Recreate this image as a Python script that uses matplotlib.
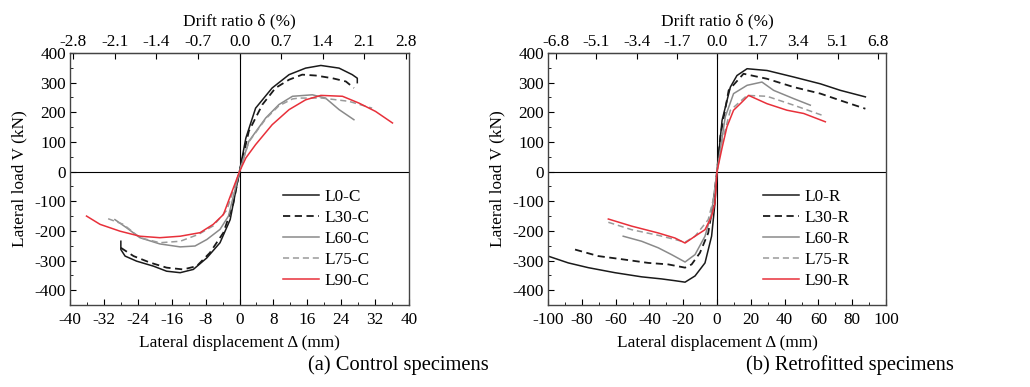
import matplotlib
matplotlib.use("Agg")
import matplotlib.pyplot as plt
from matplotlib.ticker import MultipleLocator

plt.rcParams['font.family'] = ['Liberation Serif', 'DejaVu Serif']
plt.rcParams['mathtext.fontset'] = 'stix'
plt.rcParams['axes.unicode_minus'] = False

# ---------------- data: control specimens ----------------
L0C_x = [-28, -28, -27, -24.3, -20.3, -17.2, -14, -10.9, -7.7, -4.6, -2.2, 0,
         1.5, 3.8, 7.7, 11.7, 15.6, 19.2, 23.5, 26.6, 27.8, 27.8]
L0C_y = [-235, -263, -285, -302, -319, -336, -341, -330, -291, -240, -162, 0,
         113, 214, 282, 327, 349, 358, 349, 327, 315, 300]
L30C_x = [-28, -25, -21.1, -17.2, -13.3, -10.1, -7, -3.8, -1.5, 0,
          2.2, 5.4, 8.5, 11.7, 14.8, 18, 21.9, 25.1, 27]
L30C_y = [-257, -285, -307, -324, -330, -319, -274, -206, -110, 0,
          136, 226, 282, 310, 327, 324, 315, 304, 282]
L60C_x = [-29.4, -26.6, -23.5, -18.8, -14, -10.5, -7.7, -4.6, -2.6, 0,
          2.2, 6.2, 9.3, 12.5, 17.2, 20.3, 23.5, 27]
L60C_y = [-162, -190, -223, -244, -254, -251, -229, -195, -150, 0,
          102, 181, 226, 254, 259, 248, 209, 175]
L75C_x = [-31, -27.4, -23.5, -18.8, -14, -9.7, -6.2, -3, 0,
          2.2, 6.2, 9.3, 12.5, 14, 19.5, 25.8, 31.3]
L75C_y = [-159, -178, -223, -240, -235, -212, -183, -130, 0,
          100, 178, 222, 245, 248, 248, 237, 214]
L90C_x = [-36.1, -32.9, -28.2, -23.5, -18.8, -14, -9.3, -6.2, -3.8, 0,
          1.5, 3.8, 7.7, 11.7, 15.6, 19.2, 24.3, 28.2, 32.1, 36.1]
L90C_y = [-150, -178, -201, -218, -223, -218, -206, -178, -145, 0,
          46, 91, 158, 209, 242, 257, 254, 231, 203, 164]

# ---------------- data: retrofitted specimens ----------------
L0R_x = [-100, -88, -76.2, -60.4, -44.6, -32.8, -24.9, -18.9, -13, -7.1, -3.2, -1.2, 0,
         3, 7.9, 11.8, 17.8, 29.6, 45.4, 61.2, 73, 87.8]
L0R_y = [-285, -308, -324, -341, -355, -362, -368, -373, -352, -308, -218, -106, 0,
         173, 285, 324, 347, 341, 319, 296, 274, 252]
L30R_x = [-84, -70.2, -54.5, -40.7, -28.9, -18.9, -15, -10.1, -5.2, -2.2, 0,
          2, 6.9, 15.7, 29.6, 45.4, 61.2, 73, 87.8]
L30R_y = [-263, -285, -297, -308, -313, -324, -313, -274, -207, -106, 0,
          120, 274, 330, 313, 285, 263, 240, 212]
L60R_x = [-55.5, -44.6, -34.8, -26.9, -18.9, -13, -7.1, -3.2, 0,
          4.9, 9.8, 17.8, 26.6, 33.5, 45.4, 55.2]
L60R_y = [-218, -235, -257, -280, -305, -280, -218, -140, 0,
          185, 263, 291, 302, 274, 246, 224]
L75R_x = [-64.3, -50.5, -34.8, -24.9, -18.9, -13, -9.1, -5.2, -2, 0,
          3, 7.9, 17.8, 29.6, 45.4, 62.2]
L75R_y = [-171, -196, -215, -229, -238, -218, -190, -162, -90, 0,
          100, 207, 257, 254, 224, 190]
L90R_x = [-64.3, -50.5, -34.8, -24.9, -18.9, -13, -7.1, -3.2, -1.2, 0,
          3, 5.9, 9.8, 13.8, 18.7, 29.6, 41.4, 51.3, 64.1]
L90R_y = [-160, -184, -207, -224, -241, -218, -196, -151, -106, 0,
          80, 151, 207, 229, 257, 229, 207, 196, 168]

labels_C = ['L0-C', 'L30-C', 'L60-C', 'L75-C', 'L90-C']
labels_R = ['L0-R', 'L30-R', 'L60-R', 'L75-R', 'L90-R']
drift_ticks_C = [-2.8, -2.1, -1.4, -0.7, 0.0, 0.7, 1.4, 2.1, 2.8]
drift_ticks_R = [-6.8, -5.1, -3.4, -1.7, 0.0, 1.7, 3.4, 5.1, 6.8]
disp_ticks_C = [-40, -32, -24, -16, -8, 0, 8, 16, 24, 32, 40]
disp_ticks_R = [-100, -80, -60, -40, -20, 0, 20, 40, 60, 80, 100]
load_ticks = [-400, -300, -200, -100, 0, 100, 200, 300, 400]
HEIGHT = 14.0  # mm per 1 % drift

styles = [dict(color='#1a1a1a', ls='-', lw=1.1),
          dict(color='#1a1a1a', ls=(0, (4, 2.5)), lw=1.3),
          dict(color='#8a8a8a', ls='-', lw=1.1),
          dict(color='#9a9a9a', ls=(0, (4, 2.5)), lw=1.1),
          dict(color='#e8303a', ls='-', lw=1.1)]

fig = plt.figure(figsize=(10.3, 3.87), dpi=100)
axL = fig.add_axes([70/1030, 1-305/387, 339/1030, 252/387])
axR = fig.add_axes([548/1030, 1-305/387, 338/1030, 252/387])

FS = 12.4


def setup(ax, series, labels, xlim, xticks, xminor, dticks, legx):
    for (x, y), lab, st in zip(series, labels, styles):
        ax.plot(x, y, label=lab, **st)
    ax.axhline(0, color='black', lw=0.8, zorder=0)
    ax.axvline(0, color='black', lw=0.8, zorder=0)
    ax.set_xlim(*xlim)
    ax.set_ylim(-450, 400)
    ax.set_xticks(xticks)
    ax.xaxis.set_minor_locator(MultipleLocator(xminor))
    ax.set_yticks(load_ticks)
    ax.yaxis.set_minor_locator(MultipleLocator(50))
    ax.tick_params(which='both', direction='in', labelsize=FS, top=False, right=False)
    ax.tick_params(axis='x', pad=5)
    ax.tick_params(axis='y', pad=3)
    ax.tick_params(which='major', length=4)
    ax.tick_params(which='minor', length=2)
    for s in ax.spines.values():
        s.set_color('#444444')
        s.set_linewidth(1.0)
    ax.set_xlabel('Lateral displacement Δ (mm)', fontsize=FS, labelpad=5)
    ax.set_ylabel('Lateral load V (kN)', fontsize=FS, labelpad=5)
    sec = ax.secondary_xaxis('top', functions=(lambda v: v / HEIGHT, lambda d: d * HEIGHT))
    sec.set_xticks(dticks)
    sec.set_xticklabels(['%.1f' % t for t in dticks])
    sec.tick_params(which='both', direction='in', labelsize=FS, pad=2)
    sec.tick_params(which='major', length=4)
    sec.tick_params(which='minor', length=0)
    sec.spines['top'].set_color('#444444')
    sec.set_xlabel('Drift ratio δ (%)', fontsize=FS, labelpad=6)
    ax.legend(loc='upper left', bbox_to_anchor=(legx, 0.462), frameon=False,
              fontsize=FS, handlelength=2.1, handletextpad=0.3,
              labelspacing=0.29, borderpad=0, borderaxespad=0)


setup(axL, [(L0C_x, L0C_y), (L30C_x, L30C_y), (L60C_x, L60C_y), (L75C_x, L75C_y), (L90C_x, L90C_y)],
      labels_C, (-40, 40), disp_ticks_C, 4, drift_ticks_C, 0.628)
setup(axR, [(L0R_x, L0R_y), (L30R_x, L30R_y), (L60R_x, L60R_y), (L75R_x, L75R_y), (L90R_x, L90R_y)],
      labels_R, (-100, 100), disp_ticks_R, 10, drift_ticks_R, 0.635)

fig.text(308/1030, 1-365/387, '(a) Control specimens', fontsize=14.8, ha='left', va='center')
fig.text(746/1030, 1-365/387, '(b) Retrofitted specimens', fontsize=14.8, ha='left', va='center')

fig.savefig('out.png', dpi=100)
